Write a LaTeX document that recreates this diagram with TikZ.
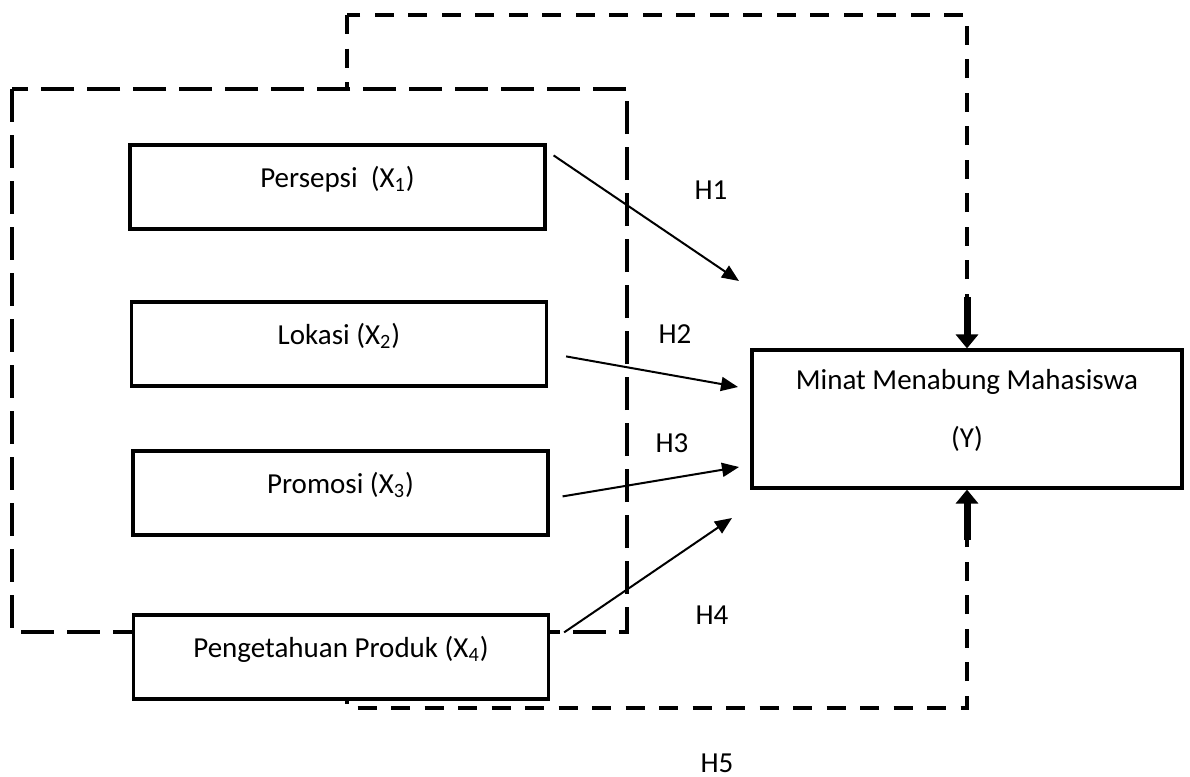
\documentclass[tikz,border=0pt]{standalone}
\usepackage{fontspec}
\setmainfont{Carlito}
\usetikzlibrary{arrows.meta}

\begin{document}
\begin{tikzpicture}[x=0.5pt, y=-0.5pt,
    every node/.style={font=\fontsize{14.5}{17.4}\selectfont},
    varbox/.style={draw, line width=1.6pt, fill=white, inner sep=0pt,
      minimum width=207.5pt, text height=21pt, text depth=21pt},
    outerdash/.style={line width=2pt, dash pattern=on 9.5pt off 7.25pt},
    innerdash/.style={line width=1.7pt, dash pattern=on 16.5pt off 6.5pt},
    harrow/.style={line width=1pt, -{Triangle[length=8.5pt,width=7pt]}},
    fatarrow/.style={line width=3.5pt, -{Triangle[length=7pt,width=11pt]}}]

  % Keep the margins of the figure
  \useasboundingbox (0,0) rectangle (1190,777);

  % Outer dashed frame and the inner dashed frame round the X boxes
  \draw [outerdash] (347,15) rectangle (967,708);
  \draw [innerdash, fill=white] (12,89) rectangle (627,632);

  % The four independent variables
  \foreach \i/\x/\y/\lab in {
    1/337.5/187/{Persepsi~~(X\textsubscript{1})},
    2/339/344/{Lokasi (X\textsubscript{2})},
    3/340.5/493/{Promosi (X\textsubscript{3})},
    4/341/657/{Pengetahuan Produk (X\textsubscript{4})}} {
    \node [varbox] (x\i) at (\x,\y) {\lab};
  }

  % The dependent variable
  \node [draw, line width=1.6pt, fill=white, align=center, inner sep=0pt,
    minimum width=215pt, minimum height=69pt] (ybox) at (967,419)
    {Minat Menabung Mahasiswa\\[11.6pt](Y)\rule[-10.5pt]{0pt}{0pt}};

  % Arrows H1 to H4, from each box towards Y
  \foreach \i/\dx/\dy/\ex/\ey in {
    1/7/12/739/281,
    2/18/56/738/387,
    3/13/47/739/467,
    4/14/19/732/518} {
    \coordinate (h\i) at (\ex,\ey);
    \draw [harrow] ([shift={(\dx,\dy)}]x\i.north east) -- (h\i);
  }

  % Thick arrows on the outer frame
  \coordinate (ytop) at (967,297);
  \coordinate (ybot) at (967,540);
  \draw [fatarrow] (ytop) -- (ybox.north);
  \draw [fatarrow] (ybot) -- (ybox.south);

  % Hypothesis labels
  \foreach \i/\x/\y in {1/711/190, 2/675/334, 3/672/443, 4/712/615, 5/717/763} {
    \node (lh\i) at (\x,\y) {H\i};
  }
\end{tikzpicture}
\end{document}
